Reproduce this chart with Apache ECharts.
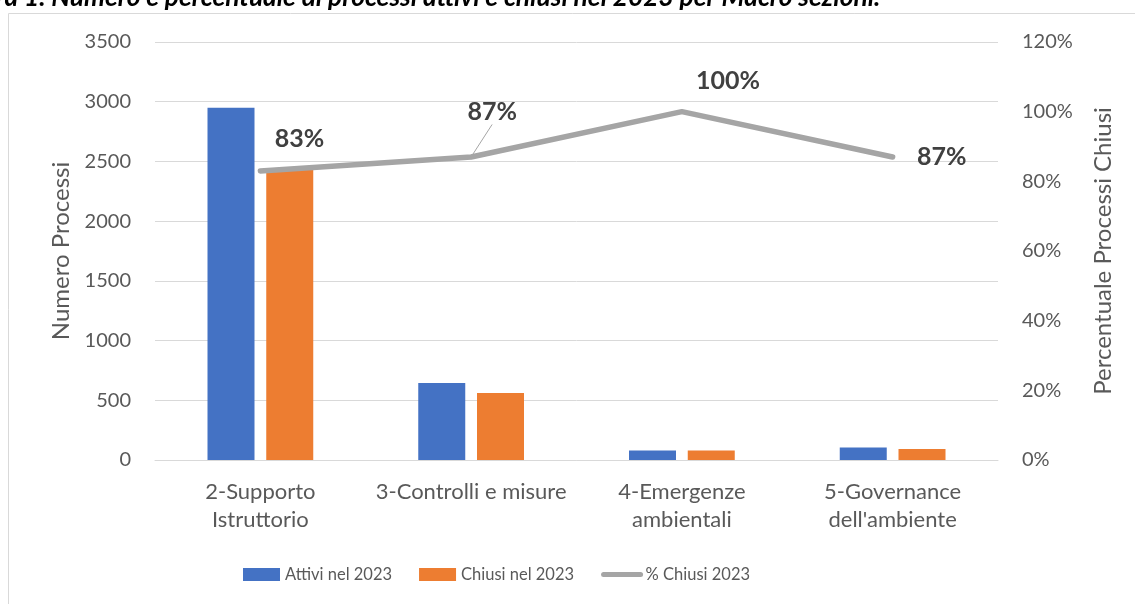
<!DOCTYPE html>
<html><head><meta charset="utf-8">
<script src="https://cdn.jsdelivr.net/npm/echarts@6/dist/echarts.min.js"></script>
<style>html,body{margin:0;padding:0;background:#fff}#c{width:1135px;height:604px}</style>
</head><body><div id="c"></div>
<script>
var categories = ["2-Supporto Istruttorio", "3-Controlli e misure", "4-Emergenze ambientali", "5-Governance dell'ambiente"];
var tickLabels = ["2-Supporto\nIstruttorio", "3-Controlli e misure", "4-Emergenze\nambientali", "5-Governance\ndell'ambiente"];
var attivi = [2950, 645, 80, 105];
var chiusi = [2440, 560, 80, 92];
var pctChiusi = [0.83, 0.87, 1.00, 0.87];
var leftTicks = [0, 500, 1000, 1500, 2000, 2500, 3000, 3500];
var rightTicks = [0, 0.2, 0.4, 0.6, 0.8, 1.0, 1.2];

var labelOffsets = [[39, -32], [21, -45], [46, -31], [49, 0]];
var FONT = 'Lato, "Open Sans", sans-serif';
var chart = echarts.init(document.getElementById('c'), null, {renderer: 'canvas'});
chart.setOption({
  animation: false,
  textStyle: {fontFamily: FONT},
  graphic: [
    {type: 'rect', shape: {x: 8.5, y: 13.5, width: 1140, height: 600}, style: {fill: 'none', stroke: '#d9d9d9', lineWidth: 1}, silent: true},
    {type: 'text', x: -52, y: -2, style: {text: 'Figura 1. Numero e percentuale di processi attivi e chiusi nel 2023 per Macro sezioni.', fill: '#000', font: 'italic bold 26.3px ' + FONT, verticalAlign: 'middle'}}
  ],
  grid: {left: 155, right: 137, top: 42, bottom: 144},
  legend: {
    left: 238, top: 561, itemWidth: 37, itemHeight: 13, itemGap: 27,
    textStyle: {color: '#595959', fontSize: 16.5, fontFamily: FONT},
    data: [
      {name: 'Attivi nel 2023', icon: 'rect'},
      {name: 'Chiusi nel 2023', icon: 'rect'},
      {name: '% Chiusi 2023', itemStyle: {opacity: 0}, lineStyle: {width: 5, cap: 'round', color: '#a5a5a5'}}
    ]
  },
  xAxis: {
    type: 'category', data: categories,
    axisLine: {lineStyle: {color: '#d9d9d9'}}, axisTick: {show: false},
    axisLabel: {color: '#595959', fontSize: 22, lineHeight: 28, margin: 18, interval: 0,
      formatter: function (v, i) { return tickLabels[i]; }}
  },
  yAxis: [
    {type: 'value', min: 0, max: 3500, interval: 500,
      name: 'Numero Processi', nameLocation: 'middle', nameGap: 81,
      nameTextStyle: {color: '#595959', fontSize: 24, fontFamily: FONT},
      axisLabel: {color: '#595959', fontSize: 20, margin: 24,
        formatter: function (v) { return String(v); }},
      splitLine: {lineStyle: {color: '#d9d9d9', width: 1}}},
    {type: 'value', min: 0, max: 1.2, interval: 0.2,
      name: 'Percentuale Processi Chiusi', nameLocation: 'middle', nameGap: 93,
      nameTextStyle: {color: '#595959', fontSize: 24, fontFamily: FONT},
      axisLabel: {color: '#595959', fontSize: 20, margin: 24,
        formatter: function (v) { return Math.round(v * 100) + '%'; }},
      splitLine: {show: false}}
  ],
  series: [
    {name: 'Attivi nel 2023', type: 'bar', data: attivi, barWidth: 47, barGap: '25%',
      itemStyle: {color: '#4472c4'}},
    {name: 'Chiusi nel 2023', type: 'bar', data: chiusi, barWidth: 47,
      itemStyle: {color: '#ed7d31'}},
    {name: '% Chiusi 2023', type: 'line', yAxisIndex: 1,
      data: pctChiusi.map(function (v, i) {
        return {value: v, labelLine: {show: i === 1, lineStyle: {color: '#a5a5a5', width: 1}}};
      }),
      symbol: 'circle', symbolSize: 1, showSymbol: true,
      itemStyle: {color: '#a5a5a5'},
      lineStyle: {color: '#a5a5a5', width: 5.5, cap: 'round', join: 'round'},
      label: {show: true, position: 'inside', color: '#404040', fontSize: 25, fontWeight: 'bold', fontFamily: FONT,
        formatter: function (p) { return Math.round(p.value * 100) + '%'; }},
      labelLine: {show: false, length2: 0},
      labelLayout: function (p) { var o = labelOffsets[p.dataIndex]; return {dx: o[0], dy: o[1]}; }
    }
  ]
});
</script></body></html>
